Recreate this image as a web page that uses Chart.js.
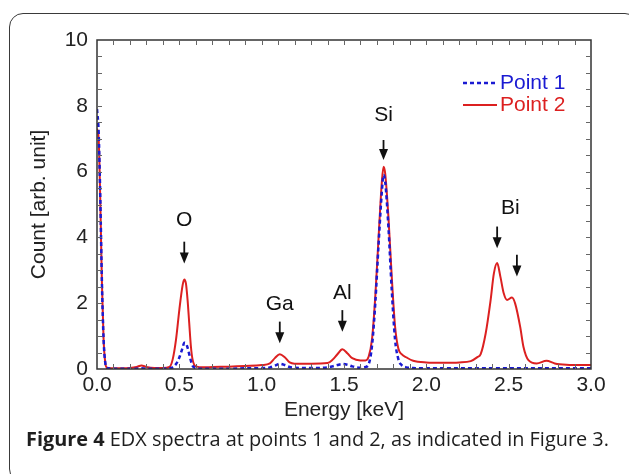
<!DOCTYPE html>
<html lang="en">
<head>
    <meta charset="UTF-8">
    <title>EDX spectra</title>
    <style>
        body {
            margin: 0;
            width: 629px;
            height: 474px;
            overflow: hidden;
            background: #ffffff;
            position: relative;
        }
        .frame {
            position: absolute;
            left: 9px;
            top: 13px;
            width: 630px;
            height: 470px;
            border: 1.4px solid #3a3a3a;
            border-radius: 14px;
            box-sizing: border-box;
        }
        #chartBox {
            position: absolute;
            left: 0;
            top: 0;
            width: 629px;
            height: 474px;
        }
        .caption {
            position: absolute;
            left: 26px;
            top: 425px;
            font-family: "Open Sans", sans-serif;
            font-size: 19.9px;
            color: #1e1e1e;
            white-space: nowrap;
        }
        .caption b {
            font-weight: 700;
        }
    </style>
    <script src="https://cdn.jsdelivr.net/npm/chart.js"></script>
</head>
<body>
    <div class="frame"></div>
    <div id="chartBox"><canvas id="edxChart" width="629" height="474"></canvas></div>
    <div class="caption"><b>Figure 4</b> EDX spectra at points 1 and 2, as indicated in Figure 3.</div>

    <script>
        // energy axis [keV] and counts
        const energy = [0.00, 0.01, 0.02, 0.03, 0.04, 0.05, 0.06, 0.10, 0.15, 0.20,
            0.24, 0.27, 0.30, 0.35, 0.40, 0.44, 0.46, 0.48, 0.50, 0.52,
            0.53, 0.54, 0.55, 0.56, 0.57, 0.58, 0.60, 0.65, 0.70, 0.80,
            0.90, 1.00, 1.05, 1.08, 1.11, 1.14, 1.17, 1.20, 1.30, 1.40,
            1.43, 1.46, 1.49, 1.52, 1.55, 1.60, 1.63, 1.65, 1.67, 1.69,
            1.71, 1.73, 1.74, 1.75, 1.77, 1.79, 1.81, 1.83, 1.85, 1.88,
            1.92, 2.00, 2.10, 2.20, 2.27, 2.31, 2.33, 2.36, 2.39, 2.41,
            2.43, 2.45, 2.47, 2.49, 2.52, 2.54, 2.57, 2.59, 2.62, 2.67,
            2.73, 2.78, 2.85, 2.95, 3.00];
        const point1 = [7.9, 7.2, 5.2, 2.6, 0.9, 0.2, 0.03, 0.01, 0.01, 0.01,
            0.01, 0.02, 0.01, 0.01, 0.01, 0.02, 0.05, 0.15, 0.35, 0.65,
            0.8, 0.78, 0.65, 0.45, 0.25, 0.1, 0.03, 0.01, 0.01, 0.01,
            0.02, 0.03, 0.05, 0.1, 0.16, 0.12, 0.06, 0.04, 0.03, 0.05,
            0.08, 0.12, 0.15, 0.13, 0.08, 0.04, 0.06, 0.15, 0.7, 2.0,
            3.8, 5.4, 5.9, 5.7, 4.3, 2.4, 0.9, 0.3, 0.12, 0.05,
            0.03, 0.02, 0.02, 0.02, 0.02, 0.02, 0.02, 0.02, 0.02, 0.02,
            0.02, 0.02, 0.02, 0.02, 0.02, 0.02, 0.02, 0.02, 0.02, 0.02,
            0.02, 0.02, 0.02, 0.02, 0.02];
        const point2 = [7.3, 7.0, 5.1, 2.6, 0.9, 0.2, 0.04, 0.02, 0.02, 0.03,
            0.06, 0.11, 0.06, 0.03, 0.03, 0.06, 0.3, 0.9, 1.8, 2.55,
            2.72, 2.6, 2.1, 1.4, 0.7, 0.3, 0.08, 0.05, 0.06, 0.07,
            0.09, 0.12, 0.17, 0.33, 0.45, 0.36, 0.2, 0.16, 0.16, 0.18,
            0.28, 0.45, 0.6, 0.48, 0.33, 0.26, 0.26, 0.38, 0.9, 2.2,
            4.0, 5.7, 6.15, 5.95, 4.6, 2.8, 1.3, 0.62, 0.45, 0.35,
            0.25, 0.2, 0.19, 0.2, 0.24, 0.36, 0.45, 1.07, 2.08, 2.9,
            3.22, 2.8, 2.3, 2.1, 2.17, 1.98, 1.28, 0.67, 0.27, 0.17,
            0.25, 0.17, 0.13, 0.12, 0.12];
        const seriesNames = ['Point 1', 'Point 2'];

        const xTicks = [0.0, 0.5, 1.0, 1.5, 2.0, 2.5, 3.0];
        const yTicks = [0, 2, 4, 6, 8, 10];

        // element labels and marker arrows (data units)
        const peakNames = ['O', 'Ga', 'Al', 'Si', 'Bi'];
        const peakNameE = [0.53, 1.11, 1.49, 1.74, 2.51];
        const peakNameY = [4.53, 1.98, 2.30, 7.72, 4.88];
        const arrowE = [0.53, 1.11, 1.49, 1.74, 2.43, 2.55];
        const arrowFrom = [3.87, 1.44, 1.79, 6.96, 4.33, 3.47];
        const arrowTo = [3.21, 0.78, 1.13, 6.35, 3.67, 2.81];

        const FONT = '"Liberation Sans", Arial, sans-serif';
        const BLUE = '#1a1ad2';
        const RED = '#dc2020';

        const toPoints = ys => energy.map((e, i) => ({ x: e, y: ys[i] }));

        // box with inward ticks, legend and arrows
        const decorPlugin = {
            id: 'decor',
            afterDatasetsDraw(chart) {
                const ctx = chart.ctx;
                const a = chart.chartArea;
                const xs = chart.scales.x;
                const ys = chart.scales.y;
                ctx.save();

                ctx.strokeStyle = '#333';
                ctx.lineWidth = 1.5;
                ctx.strokeRect(a.left, a.top, a.right - a.left, a.bottom - a.top);

                ctx.lineWidth = 1;
                ctx.strokeStyle = '#666';
                ctx.beginPath();
                for (let i = 1; i < 30; i++) {
                    const px = Math.round(xs.getPixelForValue(i / 10)) + 0.5;
                    ctx.moveTo(px, a.bottom); ctx.lineTo(px, a.bottom - 5);
                    ctx.moveTo(px, a.top); ctx.lineTo(px, a.top + 5);
                }
                for (let i = 1; i < 20; i++) {
                    const py = Math.round(ys.getPixelForValue(i / 2)) + 0.5;
                    ctx.moveTo(a.left, py); ctx.lineTo(a.left + 5, py);
                    ctx.moveTo(a.right, py); ctx.lineTo(a.right - 5, py);
                }
                ctx.stroke();

                // legend
                ctx.font = '21px ' + FONT;
                ctx.textBaseline = 'middle';
                chart.data.datasets.forEach((ds, i) => {
                    const ly = a.top + 43 + i * 22;
                    ctx.strokeStyle = ds.borderColor;
                    ctx.lineWidth = ds.borderWidth;
                    ctx.setLineDash(ds.borderDash || []);
                    ctx.beginPath();
                    ctx.moveTo(a.right - 128, ly);
                    ctx.lineTo(a.right - 94, ly);
                    ctx.stroke();
                    ctx.setLineDash([]);
                    ctx.fillStyle = ds.borderColor;
                    ctx.textAlign = 'left';
                    ctx.fillText(ds.label, a.right - 91, ly);
                });

                // element names
                ctx.fillStyle = '#111';
                ctx.textAlign = 'center';
                peakNames.forEach((n, i) => {
                    ctx.fillText(n, xs.getPixelForValue(peakNameE[i]), ys.getPixelForValue(peakNameY[i]));
                });

                // arrows
                ctx.strokeStyle = '#111';
                ctx.lineWidth = 1.8;
                arrowE.forEach((e, i) => {
                    const px = xs.getPixelForValue(e);
                    const y0 = ys.getPixelForValue(arrowFrom[i]);
                    const y1 = ys.getPixelForValue(arrowTo[i]);
                    ctx.beginPath();
                    ctx.moveTo(px, y0);
                    ctx.lineTo(px, y1 - 9);
                    ctx.stroke();
                    ctx.beginPath();
                    ctx.moveTo(px - 4.5, y1 - 11);
                    ctx.lineTo(px + 4.5, y1 - 11);
                    ctx.lineTo(px, y1);
                    ctx.closePath();
                    ctx.fill();
                });
                ctx.restore();
            }
        };

        new Chart(document.getElementById('edxChart'), {
            type: 'line',
            data: {
                datasets: [{
                    label: seriesNames[0],
                    data: toPoints(point1),
                    borderColor: BLUE,
                    borderWidth: 2.5,
                    borderDash: [4, 3],
                    pointRadius: 0,
                    cubicInterpolationMode: 'monotone'
                }, {
                    label: seriesNames[1],
                    data: toPoints(point2),
                    borderColor: RED,
                    borderWidth: 2,
                    pointRadius: 0,
                    cubicInterpolationMode: 'monotone'
                }]
            },
            options: {
                responsive: false,
                animation: false,
                events: [],
                layout: { padding: { left: 0, right: 38, top: 40, bottom: 0 } },
                plugins: {
                    legend: { display: false },
                    tooltip: { enabled: false }
                },
                scales: {
                    x: {
                        type: 'linear',
                        min: 0,
                        max: 3,
                        grid: { display: false, drawTicks: false },
                        border: { display: false },
                        afterBuildTicks: s => { s.ticks = xTicks.map(v => ({ value: v })); },
                        afterFit: s => { s.height = 105; },
                        ticks: {
                            padding: 4,
                            color: '#222',
                            font: { family: FONT, size: 21 },
                            maxRotation: 0,
                            callback: v => v.toFixed(1)
                        },
                        title: {
                            display: true,
                            text: 'Energy [keV]',
                            color: '#222',
                            font: { family: FONT, size: 21 },
                            padding: { top: 0, bottom: 51 }
                        }
                    },
                    y: {
                        min: 0,
                        max: 10,
                        grid: { display: false, drawTicks: false },
                        border: { display: false },
                        afterBuildTicks: s => { s.ticks = yTicks.map(v => ({ value: v })); },
                        afterFit: s => { s.width = 97; },
                        ticks: {
                            padding: 9,
                            color: '#222',
                            font: { family: FONT, size: 21 }
                        },
                        title: {
                            display: true,
                            text: 'Count [arb. unit]',
                            color: '#222',
                            font: { family: FONT, size: 21 },
                            padding: { top: 27, bottom: 0 }
                        }
                    }
                }
            },
            plugins: [decorPlugin]
        });
    </script>
</body>
</html>
